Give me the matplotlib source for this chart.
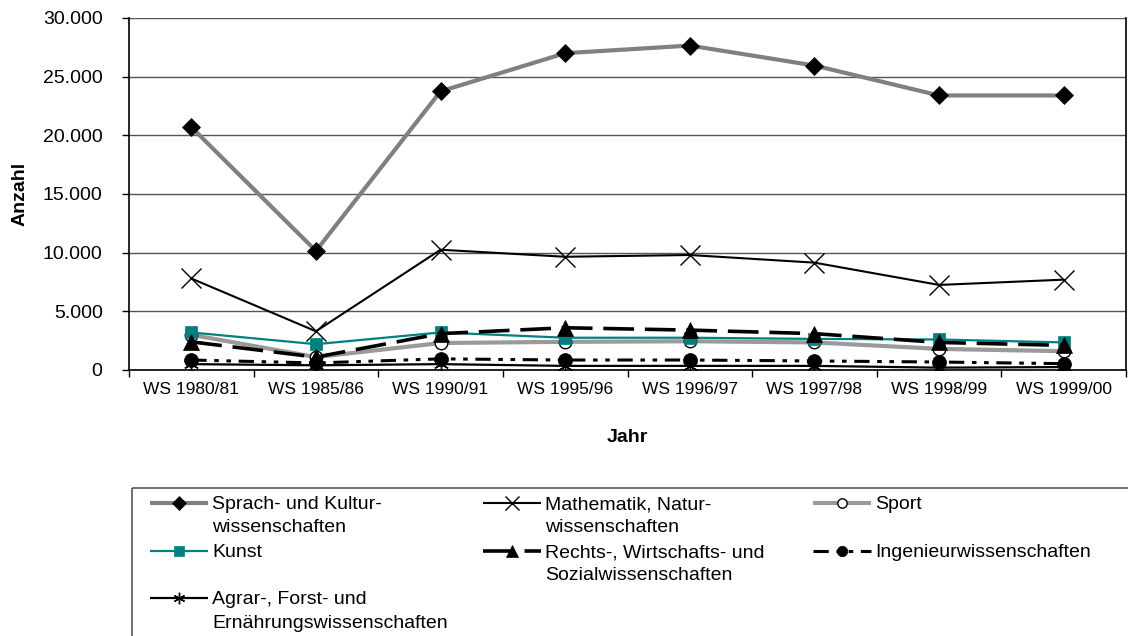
import matplotlib
matplotlib.use("Agg")
import matplotlib.pyplot as plt
from matplotlib.ticker import FuncFormatter, FixedLocator
from matplotlib.patches import Rectangle

plt.rcParams['font.family'] = ['Liberation Sans', 'DejaVu Sans']

# Semester und Studierendenzahlen je Fächergruppe
semester = ['WS 1980/81', 'WS 1985/86', 'WS 1990/91', 'WS 1995/96',
            'WS 1996/97', 'WS 1997/98', 'WS 1998/99', 'WS 1999/00']

sprach = [20700, 10150, 23750, 27000, 27650, 25950, 23400, 23400]
mathe = [7800, 3300, 10250, 9650, 9800, 9150, 7250, 7700]
sport = [3000, 1100, 2300, 2400, 2450, 2350, 1800, 1600]
kunst = [3200, 2200, 3200, 2750, 2750, 2650, 2600, 2350]
rechts = [2400, 1100, 3100, 3600, 3400, 3100, 2350, 2100]
ingenieur = [850, 600, 950, 850, 850, 770, 680, 540]
agrar = [500, 400, 500, 350, 350, 350, 200, 250]

labels = ['Sprach- und Kultur-\nwissenschaften',
          'Mathematik, Natur-\nwissenschaften',
          'Sport',
          'Kunst',
          'Rechts-, Wirtschafts- und\nSozialwissenschaften',
          'Ingenieurwissenschaften',
          'Agrar-, Forst- und\nErnährungswissenschaften']

# Linien- und Markerstil je Reihe (Reihenfolge wie labels)
styles = [
    dict(color='#808080', lw=3.0, ls='-', marker='D', ms=9.5, mfc='black', mec='black', mew=0.5),
    dict(color='black', lw=1.5, ls='-', marker='x', ms=14, mfc='black', mec='black', mew=1.0),
    dict(color='#9a9a9a', lw=3.0, ls='-', marker='o', ms=9, mfc='white', mec='black', mew=1.0),
    dict(color='#008080', lw=1.6, ls='-', marker='s', ms=9, mfc='#008080', mec='#008080', mew=0.5),
    dict(color='black', lw=2.6, ls=(0, (8.5, 3)), marker='^', ms=11, mfc='black', mec='black', mew=0.5),
    dict(color='black', lw=2.2, ls=(0, (5, 2.5, 1.5, 2.5, 1.5, 2.5)), marker='o', ms=10, mfc='black', mec='black', mew=0.5),
    dict(color='black', lw=1.6, ls='-', marker=(6, 2, 0), ms=11, mfc='black', mec='black', mew=1.0),
]
series = [sprach, mathe, sport, kunst, rechts, ingenieur, agrar]

FS = 14
W, H = 1128, 636
fig = plt.figure(figsize=(W / 100, H / 100), dpi=100)
ax = fig.add_axes([129 / W, 1 - 370 / H, 997 / W, 352 / H])

xpos = [i + 0.5 for i in range(len(semester))]
for vals, st in zip(series, styles):
    ax.plot(xpos, vals, solid_capstyle='butt', dash_capstyle='butt', zorder=3, **st)

ax.set_xlim(0, len(semester))
ax.set_ylim(0, 30000)
ax.set_yticks(range(0, 30001, 5000))
ax.yaxis.set_major_formatter(FuncFormatter(lambda v, p: f"{int(v):,}".replace(",", ".")))
ax.xaxis.set_major_locator(FixedLocator(xpos))
ax.set_xticklabels(semester)
ax.xaxis.set_minor_locator(FixedLocator(range(len(semester) + 1)))
ax.tick_params(axis='x', which='major', length=0, pad=9, labelsize=12.5)
ax.tick_params(axis='x', which='minor', length=5, width=1, direction='out', color='black')
ax.tick_params(axis='y', length=5, width=1, direction='out', labelsize=FS, pad=14)

ax.grid(axis='y', color='#555555', lw=1.0, zorder=0)
ax.set_axisbelow(True)
ax.spines['top'].set_visible(False)
for s in ['left', 'bottom', 'right']:
    ax.spines[s].set_color('black')
    ax.spines[s].set_linewidth(1.2)

# Achsentitel
ax.text((20 - 129) / 997, 0.5, 'Anzahl', transform=ax.transAxes, rotation=90,
        fontsize=FS, fontweight='bold', ha='center', va='center')
ax.text(0.5, -(437 - 370) / 352, 'Jahr', transform=ax.transAxes,
        fontsize=FS, fontweight='bold', ha='center', va='center')

# Legende von Hand: drei Spalten, Marker auf Höhe der ersten Textzeile
lax = fig.add_axes([0, 0, 1, 1])
lax.set_xlim(0, W)
lax.set_ylim(H, 0)
lax.axis('off')
lax.add_patch(Rectangle((132, 488), 1020, 200, fill=False, ec='#555555', lw=1.2))

col_x = [150, 483, 813]
row_y = [503, 551, 598]
order = [(0, 0), (0, 1), (0, 2), (1, 0), (1, 1), (1, 2), (2, 0)]
for (r, c), lab, st in zip(order, labels, styles):
    x0 = col_x[c]
    y = row_y[r]
    line_st = {k: v for k, v in st.items() if k in ('color', 'lw', 'ls')}
    lax.plot([x0, x0 + 58], [y, y], solid_capstyle='butt', dash_capstyle='butt', **line_st)
    lax.plot([x0 + 29], [y], ls='none', marker=st['marker'], ms=st['ms'] * 0.75,
             mfc=st['mfc'], mec=st['mec'], mew=st['mew'])
    lax.text(x0 + 62, y - 7, lab, fontsize=FS, va='top', ha='left', linespacing=1.5)

fig.savefig('out.png', dpi=100)
